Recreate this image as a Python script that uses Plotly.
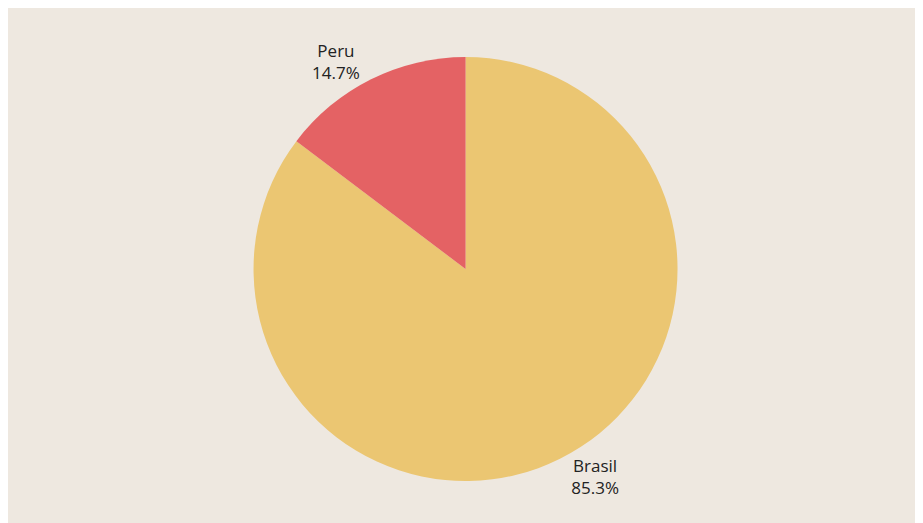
import plotly.graph_objects as go

labels = ["Brasil", "Peru"]
values = [85.3, 14.7]
colors = ["#EBC672", "#E46264"]

fig = go.Figure(go.Pie(
    labels=labels,
    values=values,
    marker=dict(colors=colors),
    textinfo="label+percent",
    textposition="outside",
    texttemplate="%{label}<br>%{percent:.1%}",
    showlegend=False,
    sort=True,
    direction="clockwise",
    rotation=0,
    domain=dict(x=[0.015, 1], y=[0, 1]),
    outsidetextfont=dict(color="#222222", size=17),
))
fig.update_layout(
    width=915,
    height=515,
    paper_bgcolor="#EEE8E0",
    plot_bgcolor="#EEE8E0",
    font=dict(family="Open Sans", size=17, color="#222222"),
    margin=dict(l=30, r=10, t=49, b=42),
)
fig.write_html("out.html")
